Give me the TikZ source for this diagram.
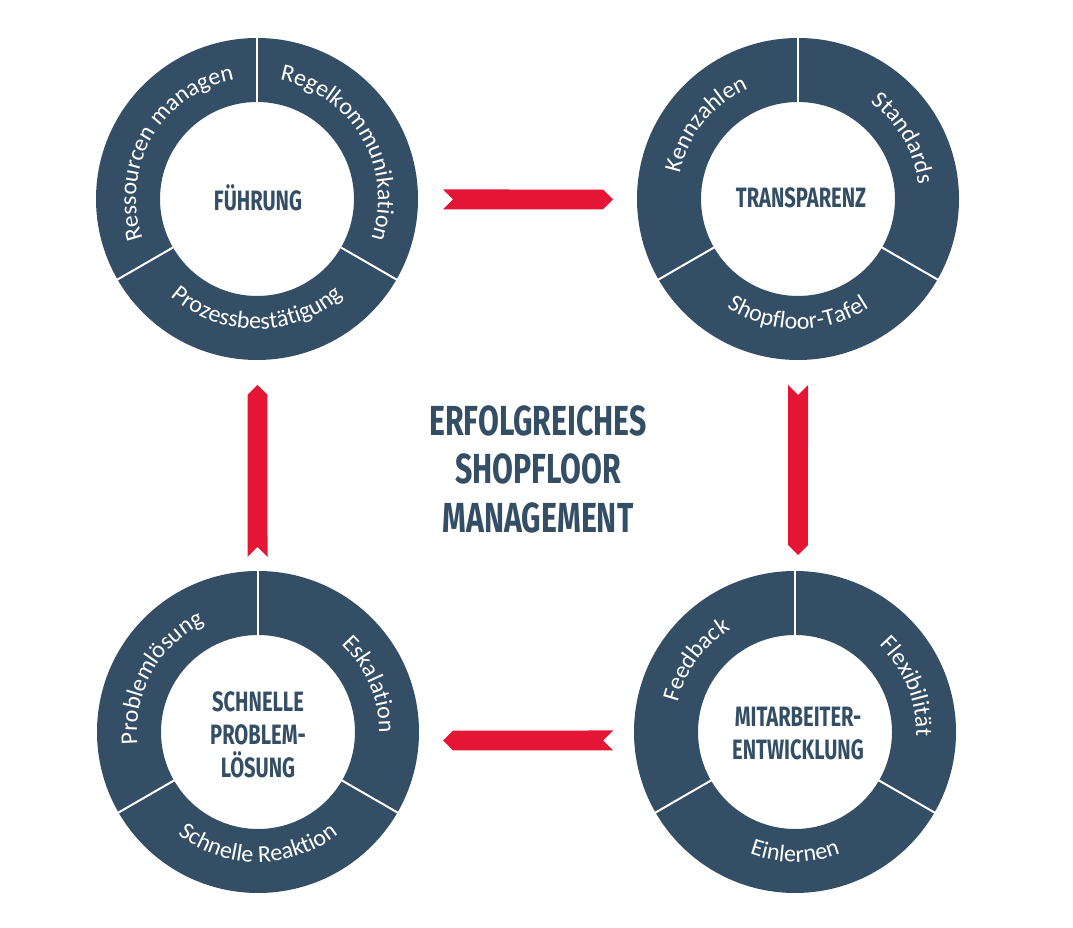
\documentclass[tikz,border=0pt]{standalone}
\usepackage{fontspec}
\setmainfont{Carlito}
\newfontfamily\headfont{Fira Sans}[FakeStretch=0.72]
\usetikzlibrary{calc,decorations.text}
\definecolor{schiefer}{RGB}{52,78,101}
\definecolor{signalrot}{RGB}{229,21,53}
\newcommand\ringfont{\fontsize{24}{24}\selectfont}
\tikzset{
  ring/.style={fill=schiefer,even odd rule},
  trenner/.style={white,line width=2pt},
  mitte/.style={font=\headfont\bfseries\fontsize{28}{33}\selectfont,text=schiefer,align=center,inner sep=0pt},
  titel/.style={font=\headfont\bfseries\fontsize{42}{48.5}\selectfont,text=schiefer,align=center,inner sep=0pt},
  band/.style={fill=signalrot}
}
% ring with three segments
\newcommand\segring[1]{%
  \fill[ring] (#1) circle[radius=161] (#1) circle[radius=97];
  \foreach \w in {90,-30,210}
    \draw[trenner] ($(#1)+(\w:96)$) -- ($(#1)+(\w:162)$);}
% text on the side segments (clockwise) and on the bottom one
\newcommand\seitentext[3]{%
  \path[decorate,decoration={text along path,text align=center,text={|\ringfont\color{white}|#3}}]
    ($(#1)+({#2+70}:121)$) arc[start angle={#2+70},end angle={#2-70},radius=121];}
\newcommand\untentext[2]{%
  \path[decorate,decoration={text along path,text align=center,text={|\ringfont\color{white}|#2}}]
    ($(#1)+(200:130)$) arc[start angle=200,end angle=340,radius=130];}
% red band arrow from tail #1 to head #2
\newcommand\pfeil[2]{%
  \fill[band] ($(#1)!10pt!90:(#2)$) -- ($(#2)!14.1pt!-45:(#1)$) -- (#2)
    -- ($(#2)!14.1pt!45:(#1)$) -- ($(#1)!10pt!-90:(#2)$) -- ($(#1)!10pt!(#2)$) -- cycle;}

\begin{document}
\begin{tikzpicture}[x=1pt,y=1pt]
  \useasboundingbox (0,0) rectangle (1073,928);
  \coordinate (tl) at (257,729);
  \coordinate (tr) at (798,729);
  \coordinate (bl) at (258,196);
  \coordinate (br) at (795,196);

  \segring{tl}
  \seitentext{tl}{150}{Ressourcen managen}
  \seitentext{tl}{30}{Regelkommunikation}
  \untentext{tl}{Prozessbestätigung}
  \node[mitte] (fuehrung) at (258,730) {FÜHRUNG};

  \segring{tr}
  \seitentext{tr}{141}{Kennzahlen}
  \seitentext{tr}{30}{Standards}
  \untentext{tr}{Shopfloor-Tafel}
  \node[mitte] (transparenz) at (801,730) {TRANSPARENZ};

  \segring{bl}
  \seitentext{bl}{151}{Problemlösung}
  \seitentext{bl}{23}{Eskalation}
  \untentext{bl}{Schnelle Reaktion}
  \node[mitte] (problemloesung) at (258,193) {SCHNELLE\\PROBLEM-\\LÖSUNG};

  \segring{br}
  \seitentext{br}{144}{Feedback}
  \seitentext{br}{22}{Flexibilität}
  \untentext{br}{Einlernen}
  \node[mitte] (mitarbeiter) at (798,194) {MITARBEITER-\\ENTWICKLUNG};

  \node[titel] (sfm) at (538,459) {ERFOLGREICHES\\SHOPFLOOR\\MANAGEMENT};

  % arrows between the rings
  \coordinate (oben a) at (443,728.5);  \coordinate (oben b) at (613,728.5);
  \coordinate (rechts a) at (798,543);  \coordinate (rechts b) at (798,373);
  \coordinate (unten a) at (613,187.5); \coordinate (unten b) at (443,187.5);
  \coordinate (links a) at (257.5,371); \coordinate (links b) at (257.5,543);
  \pfeil{oben a}{oben b}
  \pfeil{rechts a}{rechts b}
  \pfeil{unten a}{unten b}
  \pfeil{links a}{links b}
\end{tikzpicture}
\end{document}
